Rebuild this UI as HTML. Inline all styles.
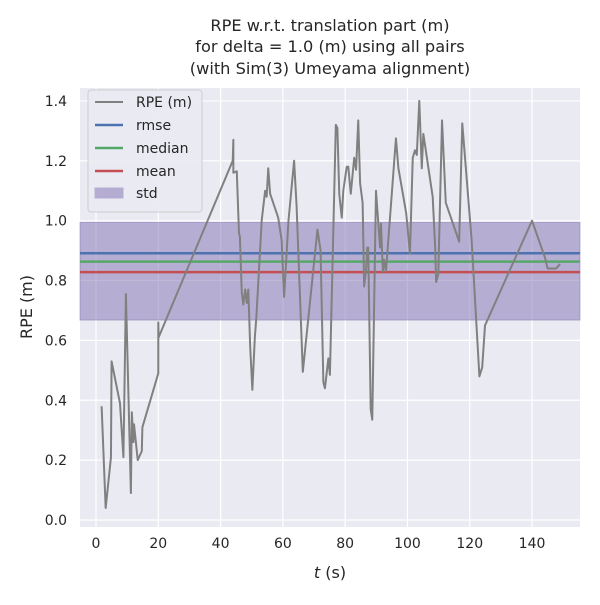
<!DOCTYPE html>
<html><head><meta charset="utf-8"><style>
body{margin:0;background:#fff;font-family:"Liberation Sans","DejaVu Sans",sans-serif}
svg text{font-family:"DejaVu Sans","Liberation Sans",sans-serif;fill:#262626}
</style></head><body>
<svg id="chart" width="600" height="600" xmlns="http://www.w3.org/2000/svg">
<g id="titleg">
<text x="330" y="31" text-anchor="middle" font-size="16.2">RPE w.r.t. translation part (m)</text>
<text x="330" y="52" text-anchor="middle" font-size="16.2">for delta = 1.0 (m) using all pairs</text>
<text x="330" y="74" text-anchor="middle" font-size="16.2">(with Sim(3) Umeyama alignment)</text>
</g>
<rect x="80" y="88" width="500" height="439" fill="#eaeaf2"/>
<g id="grid"></g><g id="band"></g><g id="stats"></g><g id="series"></g><g id="ticks"></g>
<text x="330" y="578" text-anchor="middle" font-size="16"><tspan font-style="italic">t</tspan> (s)</text>
<text transform="translate(32,307) rotate(-90)" text-anchor="middle" font-size="16">RPE (m)</text>
<g id="legend">
<rect x="88" y="90" width="114" height="122" rx="3" fill="#eaeaf2" stroke="#cccccc" opacity="0.9"/>
<line x1="95" y1="102" x2="123" y2="102" stroke="#808080" stroke-width="2"/><text x="136" y="107" font-size="14">RPE (m)</text>
<line x1="95" y1="125" x2="123" y2="125" stroke="#4c72b0" stroke-width="2.5"/><text x="136" y="130" font-size="14">rmse</text>
<line x1="95" y1="148" x2="123" y2="148" stroke="#55a868" stroke-width="2.5"/><text x="136" y="153" font-size="14">median</text>
<line x1="95" y1="171" x2="123" y2="171" stroke="#c44e52" stroke-width="2.5"/><text x="136" y="176" font-size="14">mean</text>
<rect x="95" y="188" width="28" height="10" fill="#8172b2" opacity="0.5" stroke="#8172b2"/><text x="136" y="198" font-size="14">std</text>
</g>
</svg>
<script>
const times=[1.8,3.1,4.8,5.0,7.7,8.8,9.6,11.2,11.5,12.0,12.2,13.4,14.7,14.9,20.0,20.0,20.1,43.9,44.1,44.1,45.2,45.9,46.2,46.8,47.3,47.9,48.4,48.9,49.5,50.2,51.0,51.5,53.2,54.3,54.8,55.3,55.9,58.5,59.6,60.4,61.8,63.6,64.4,66.4,71.1,72.1,73.0,73.5,74.6,75.1,77.0,77.5,78.1,78.9,79.4,80.5,81.0,81.8,82.9,83.5,84.2,84.8,85.6,86.1,86.7,87.1,87.4,88.2,88.7,89.9,91.2,91.5,92.1,92.5,93.1,96.3,97.1,99.6,100.8,101.7,102.4,103.0,103.8,104.6,105.1,108.1,108.9,109.2,109.9,111.1,112.3,116.6,117.6,120.6,123.1,124.0,124.9,140.0,144.2,145.0,147.7,149.0];
const rpe=[0.38,0.04,0.21,0.53,0.39,0.21,0.755,0.09,0.36,0.26,0.32,0.20,0.23,0.31,0.49,0.66,0.61,1.20,1.27,1.16,1.165,0.96,0.945,0.76,0.72,0.77,0.725,0.77,0.58,0.435,0.61,0.68,1.0,1.10,1.08,1.175,1.09,1.01,0.935,0.745,1.0,1.2,1.05,0.495,0.97,0.90,0.46,0.44,0.54,0.485,1.32,1.31,1.09,1.01,1.10,1.18,1.18,1.09,1.21,1.17,1.335,1.125,1.06,0.78,0.835,0.91,0.91,0.37,0.335,1.10,0.91,0.99,0.83,0.87,0.83,1.275,1.175,1.025,0.89,1.21,1.235,1.22,1.40,1.175,1.29,1.08,0.91,0.795,0.82,1.335,1.06,0.93,1.325,0.935,0.48,0.51,0.65,1.0,0.875,0.84,0.84,0.855];
const statNames=["rmse","median","mean"];
const statValues=[0.891,0.863,0.828];
const stdRange=[0.668,0.994];
const xTicks=[0,20,40,60,80,100,120,140];
const yTicks=[0.0,0.2,0.4,0.6,0.8,1.0,1.2,1.4];
const X0=80,X1=580,Y0=88,Y1=527;
const xMin=-5.14,xMax=155.4,yMin=-0.0234,yMax=1.4432;
function sx(t){return X0+(t-xMin)/(xMax-xMin)*(X1-X0);}
function sy(v){return Y1-(v-yMin)/(yMax-yMin)*(Y1-Y0);}
const NS="http://www.w3.org/2000/svg";
function mk(tag,attrs,parent){const e=document.createElementNS(NS,tag);for(const k in attrs)e.setAttribute(k,attrs[k]);document.getElementById(parent).appendChild(e);return e;}
xTicks.forEach(t=>{
 const g=mk("line",{x1:sx(t),x2:sx(t),y1:Y0,y2:Y1,stroke:"#fff","stroke-width":1.2},"grid");
 
 
 const l=mk("text",{x:sx(t),y:Y1+21,"text-anchor":"middle","font-size":14},"ticks");
 l.textContent=String(t);
 
 
});
yTicks.forEach(v=>{
 const g=mk("line",{x1:X0,x2:X1,y1:sy(v),y2:sy(v),stroke:"#fff","stroke-width":1.2},"grid");
 
 
 const l=mk("text",{x:X0-13,y:sy(v)+5,"text-anchor":"end","font-size":14},"ticks");
 l.textContent=v.toFixed(1);
 
 
});
const b=mk("rect",{x:X0,width:X1-X0,y:sy(stdRange[1]),height:sy(stdRange[0])-sy(stdRange[1]),fill:"#8172b2","fill-opacity":0.5,stroke:"#8172b2","stroke-opacity":0.5},"band");


const cols=["#4c72b0","#55a868","#c44e52"];
statValues.forEach((v,i)=>{
 const l=mk("line",{x1:X0,x2:X1,y1:sy(v),y2:sy(v),stroke:cols[i],"stroke-width":2.5},"stats");
 
 
});
const p=mk("polyline",{points:times.map((t,i)=>sx(t)+","+sy(rpe[i])).join(" "),fill:"none",stroke:"#808080","stroke-width":2,"stroke-linejoin":"round"},"series");


</script>
</body></html>
